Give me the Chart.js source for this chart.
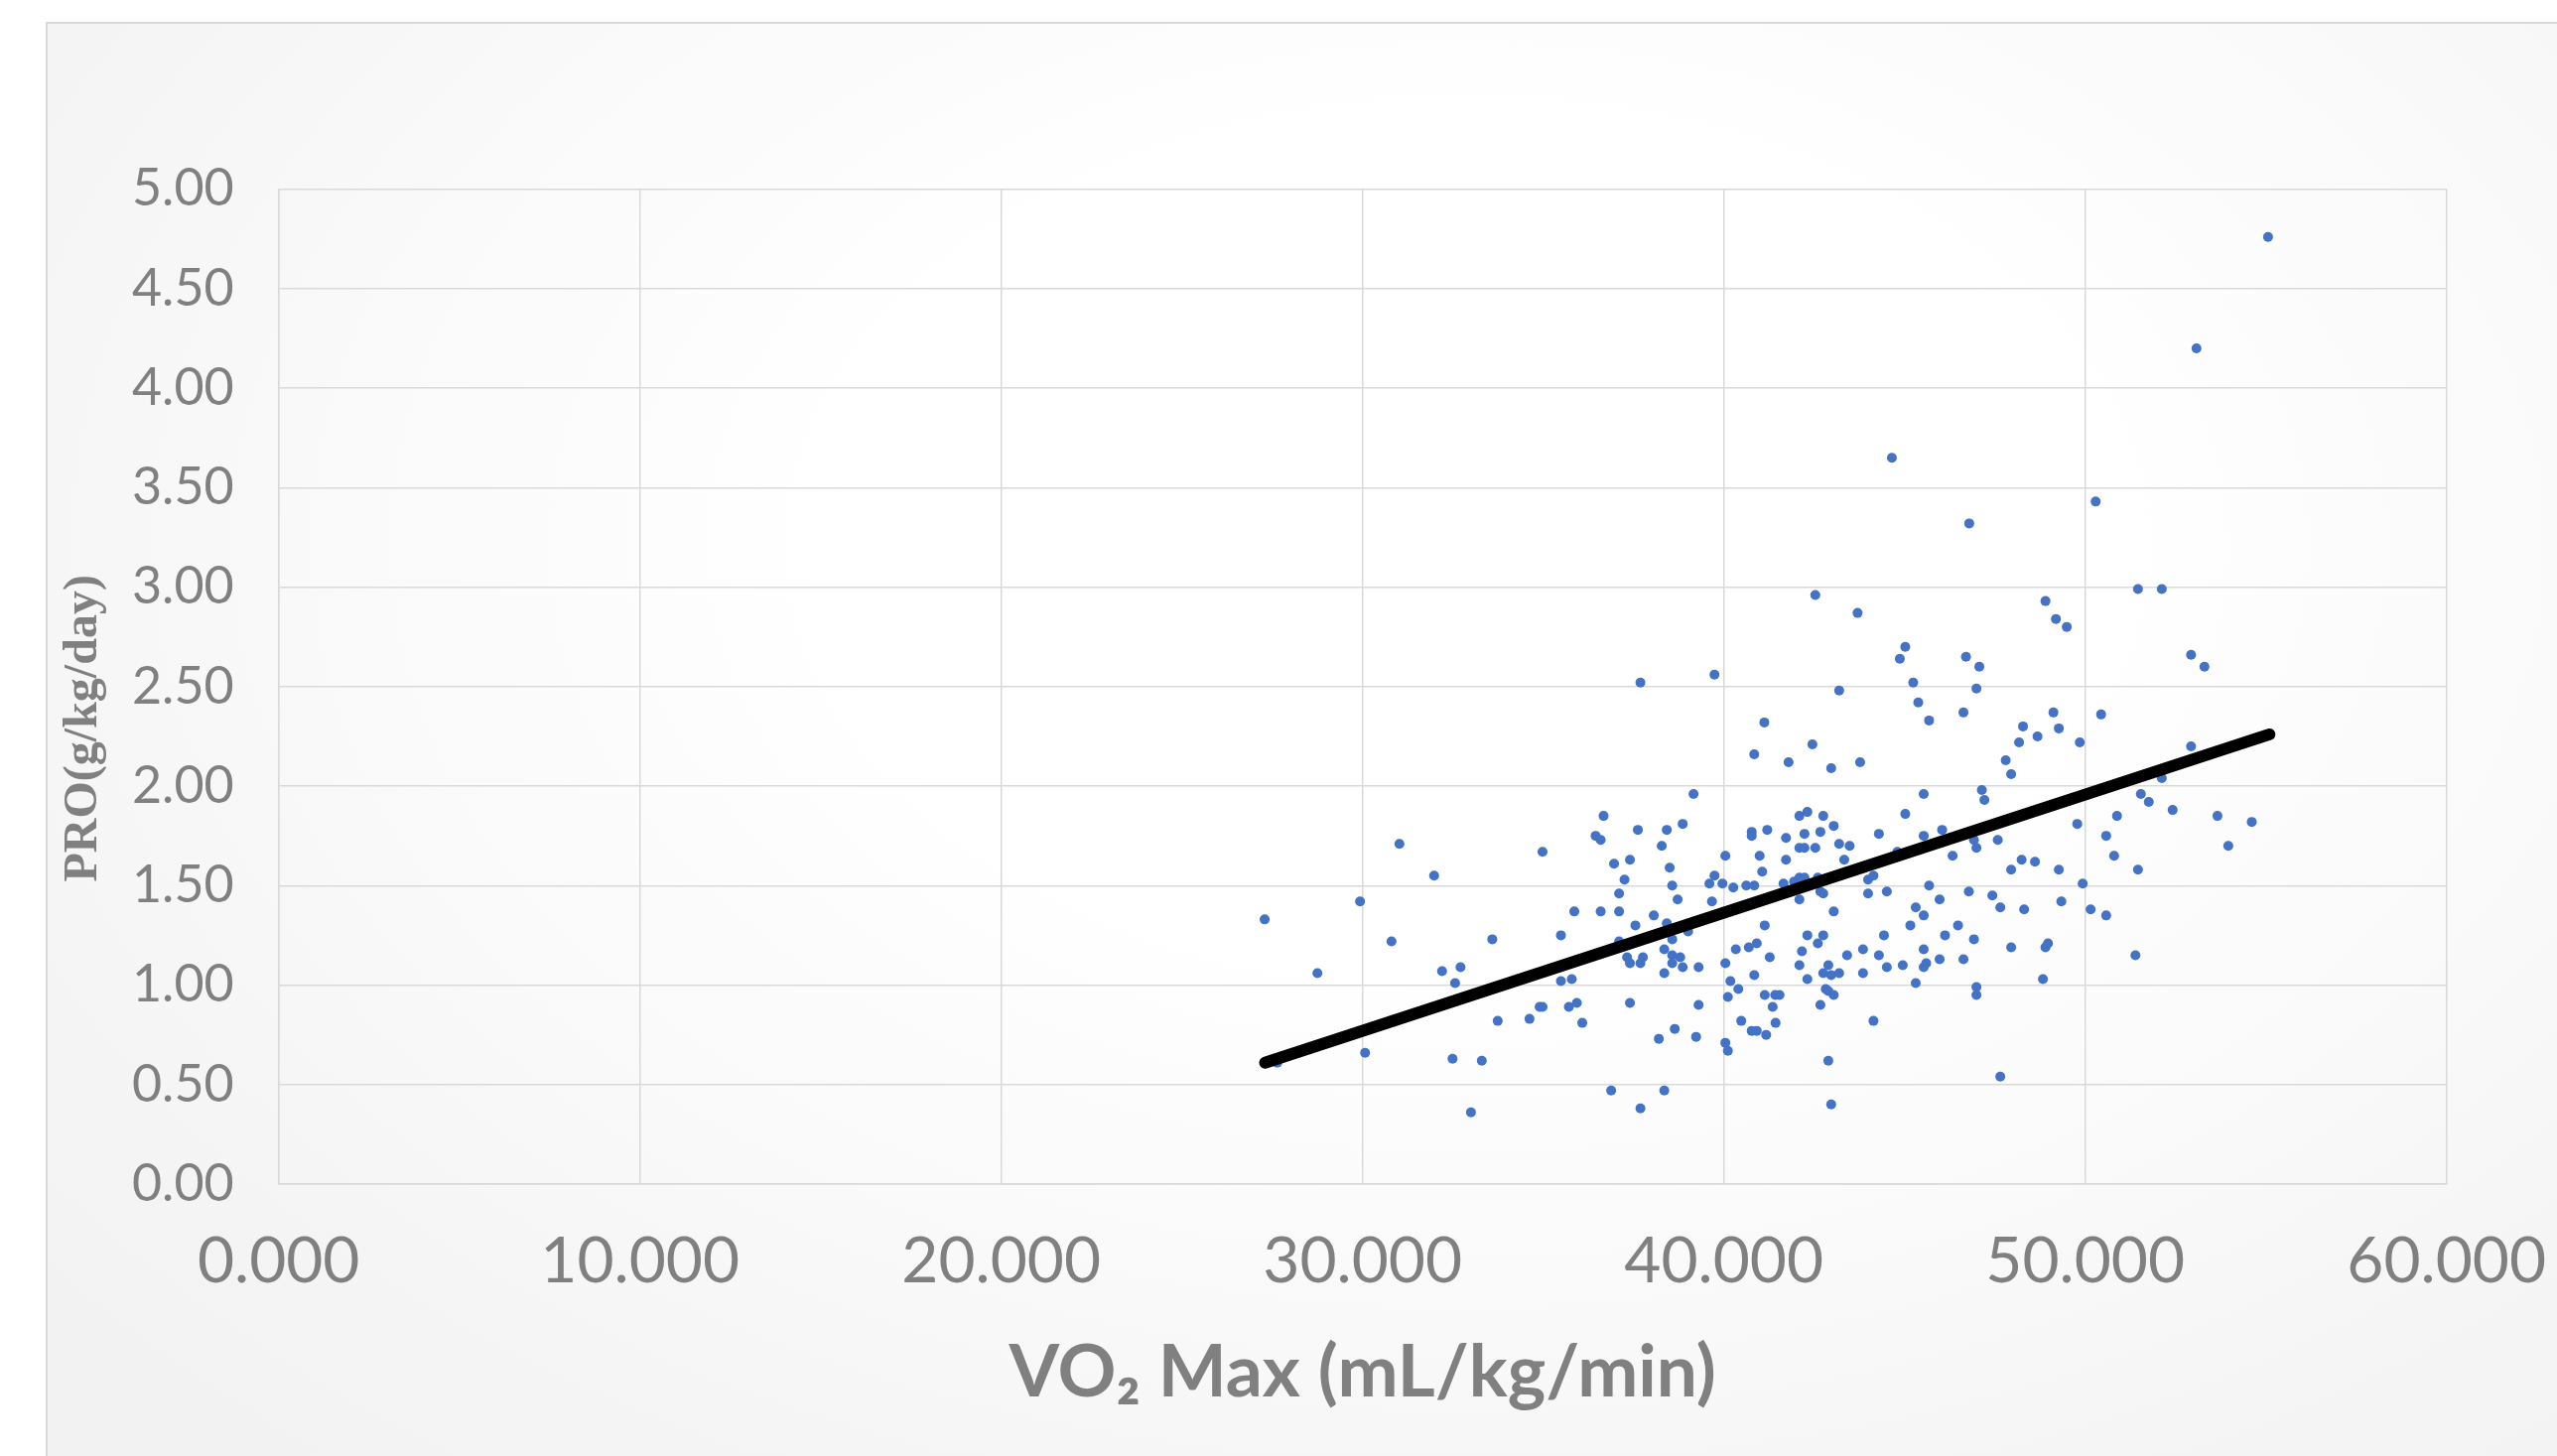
<!DOCTYPE html>
<html>
<head>
<meta charset="utf-8">
<script src="https://cdn.jsdelivr.net/npm/chart.js@4.4.0/dist/chart.umd.min.js"></script>
<style>
  html, body { margin: 0; padding: 0; background: #ffffff; overflow: hidden; }
  #frame {
    position: absolute; left: 46px; top: 22px; width: 2600px; height: 1500px;
    border: 2px solid #d9d9d9;
    background: radial-gradient(ellipse 70% 80% at 55% 35%, #ffffff 0%, #ffffff 35%, #f2f2f2 100%);
  }
  #wrap { position: absolute; left: 0; top: 0; width: 2576px; height: 1467px; }
</style>
</head>
<body>
<div id="frame"></div>
<div id="wrap"><canvas id="myChart"></canvas></div>
<script>
// VO2 max (mL/kg/min) and protein intake (g/kg/day) per subject
const vo2Max = [
  55.06, 53.08, 44.65, 46.79, 50.29,
  37.69, 39.74, 41.12, 40.84, 39.16, 36.67, 37.62, 38.42, 38.86, 36.45, 36.59, 40.77, 41.20,
  42.53, 43.70, 45.02, 44.87, 46.70, 47.07, 45.24, 43.19, 46.99, 45.38, 45.68, 46.63, 42.45, 41.79,
  42.97, 43.77, 48.28, 48.17, 47.80, 47.95, 45.53, 47.14, 47.21, 45.02, 42.09, 42.31, 42.75, 43.04,
  42.23, 42.67, 44.29, 46.04, 41.72, 45.53,
  48.90, 49.19, 49.49, 51.46, 52.12, 52.93, 53.30, 49.12, 49.27, 48.68, 49.85, 50.44, 52.93, 52.12,
  51.54, 51.76, 52.42, 50.88, 49.78, 53.66, 54.61, 50.58,
  31.02, 31.98, 29.93, 27.29, 30.80, 33.59, 28.75, 32.20, 32.71, 32.56, 33.74, 30.07, 32.49, 33.30,
  33.00, 27.64,
  34.98, 40.77, 38.28, 40.04, 40.99, 36.96, 37.40, 38.50, 41.06, 39.74, 37.25, 39.60, 39.96, 40.26,
  40.62, 40.84, 38.57, 37.10, 38.72, 39.67, 35.86, 36.59, 37.10, 38.06, 38.42, 37.55, 35.49, 39.01,
  38.57, 41.13, 37.10, 40.33, 40.69, 40.91, 38.35, 37.32, 37.76, 38.57, 38.79, 37.40, 37.69, 38.57,
  38.86, 39.30, 40.04, 38.35, 40.84, 35.49, 35.79, 40.18, 40.40, 40.11, 41.13, 34.90, 34.98, 35.71,
  35.93, 37.40, 39.30, 34.62, 36.08, 40.48, 40.77, 40.91, 41.17, 38.64, 38.20, 39.23, 40.04, 40.11,
  36.88, 38.35, 37.69,
  42.09, 42.23, 42.53, 43.19, 43.48, 41.72, 43.33, 44.80, 46.33, 46.92, 46.99, 47.58, 48.24, 47.95,
  41.65, 41.94, 42.09, 42.23, 42.60, 42.67, 42.75, 42.09, 43.04, 43.99, 44.14, 43.99, 44.51, 45.68,
  45.97, 46.78, 47.43, 47.65, 48.31, 45.31, 45.53, 45.16, 46.48, 42.31, 42.75, 42.60, 44.43, 46.12,
  46.92, 47.95, 42.16, 43.41, 43.85, 44.29, 45.53, 41.27, 42.09, 42.89, 42.75, 42.97, 43.19, 43.85,
  44.51, 44.95, 45.60, 45.53, 45.97, 46.63, 42.31, 45.31, 46.99, 46.99, 41.42, 41.54, 42.82, 42.89,
  43.04, 41.35, 42.67, 41.43, 44.14, 42.89, 47.65, 42.97,
  53.96, 50.80, 48.61, 49.27, 51.46, 49.93, 49.34, 50.15, 50.58, 48.90, 48.97, 51.39, 48.83
];
const protein = [
  4.76, 4.20, 3.65, 3.32, 3.43,
  2.52, 2.56, 2.32, 2.16, 1.96, 1.85, 1.78, 1.78, 1.81, 1.75, 1.73, 1.77, 1.78,
  2.96, 2.87, 2.70, 2.64, 2.65, 2.60, 2.52, 2.48, 2.49, 2.42, 2.33, 2.37, 2.21, 2.12,
  2.09, 2.12, 2.30, 2.22, 2.13, 2.06, 1.96, 1.98, 1.93, 1.86, 1.85, 1.87, 1.85, 1.80,
  1.76, 1.77, 1.76, 1.78, 1.74, 1.75,
  2.93, 2.84, 2.80, 2.99, 2.99, 2.66, 2.60, 2.37, 2.29, 2.25, 2.22, 2.36, 2.20, 2.04,
  1.96, 1.92, 1.88, 1.85, 1.81, 1.85, 1.82, 1.75,
  1.71, 1.55, 1.42, 1.33, 1.22, 1.23, 1.06, 1.07, 1.09, 1.01, 0.82, 0.66, 0.63, 0.62,
  0.36, 0.61,
  1.67, 1.75, 1.70, 1.65, 1.65, 1.61, 1.63, 1.59, 1.57, 1.55, 1.53, 1.51, 1.51, 1.49,
  1.50, 1.50, 1.50, 1.46, 1.43, 1.42, 1.37, 1.37, 1.37, 1.35, 1.31, 1.30, 1.25, 1.27,
  1.23, 1.30, 1.22, 1.18, 1.19, 1.21, 1.18, 1.14, 1.14, 1.15, 1.14, 1.11, 1.11, 1.11,
  1.09, 1.09, 1.11, 1.06, 1.05, 1.02, 1.03, 1.02, 0.98, 0.94, 0.95, 0.89, 0.89, 0.89,
  0.91, 0.91, 0.90, 0.83, 0.81, 0.82, 0.77, 0.77, 0.75, 0.78, 0.73, 0.74, 0.71, 0.67,
  0.47, 0.47, 0.38,
  1.69, 1.69, 1.69, 1.71, 1.70, 1.63, 1.63, 1.67, 1.65, 1.73, 1.69, 1.73, 1.63, 1.58,
  1.51, 1.52, 1.54, 1.54, 1.54, 1.47, 1.46, 1.43, 1.37, 1.53, 1.55, 1.46, 1.47, 1.50,
  1.43, 1.47, 1.45, 1.39, 1.38, 1.39, 1.35, 1.30, 1.30, 1.25, 1.25, 1.21, 1.25, 1.25,
  1.23, 1.19, 1.17, 1.15, 1.18, 1.15, 1.18, 1.14, 1.10, 1.10, 1.06, 1.05, 1.06, 1.06,
  1.09, 1.10, 1.11, 1.09, 1.13, 1.13, 1.03, 1.01, 0.99, 0.95, 0.95, 0.95, 0.98, 0.97,
  0.95, 0.89, 0.90, 0.81, 0.82, 0.62, 0.54, 0.40,
  1.70, 1.65, 1.62, 1.58, 1.58, 1.51, 1.42, 1.38, 1.35, 1.19, 1.21, 1.15, 1.03
];
// linear trendline end points as drawn
const trendX = [27.3, 55.1];
const trendY = [0.61, 2.26];

const xTitle = 'VO\u2082 Max (mL/kg/min)';
const yTitle = 'PRO(g/kg/day)';

const points = vo2Max.map((v, i) => ({x: v, y: protein[i]}));
const trend = trendX.map((v, i) => ({x: v, y: trendY[i]}));

const grey = '#808080';
const gridGrey = '#d9d9d9';

const ctx = document.getElementById('myChart').getContext('2d');
const myChart = new Chart(ctx, {
    type: 'scatter',
    data: {
        datasets: [
            {
                label: 'Linear (PRO)',
                data: trend,
                showLine: true,
                borderColor: '#000000',
                borderWidth: 12,
                borderCapStyle: 'round',
                pointRadius: 0,
                order: 0
            },
            {
                label: 'PRO',
                data: points,
                backgroundColor: '#4472C4',
                borderColor: '#4472C4',
                borderWidth: 0,
                pointRadius: 5,
                order: 1
            }
        ]
    },
    options: {
        responsive: true,
        maintainAspectRatio: false,
        devicePixelRatio: 1,
        animation: false,
        layout: { padding: { left: 0, top: 190.6, right: 111.3, bottom: 0 } },
        plugins: { legend: { display: false }, tooltip: { enabled: false } },
        scales: {
            x: {
                type: 'linear',
                min: 0,
                max: 60,
                afterFit: (scale) => {
                    scale.height = 274;
                    // let the end labels overhang instead of shrinking the plot
                    scale.paddingLeft = 0;
                    scale.paddingRight = 0;
                },
                ticks: {
                    stepSize: 10,
                    padding: 40,
                    color: grey,
                    font: { family: 'Lato', size: 64 },
                    callback: (v) => v.toFixed(3)
                },
                grid: { color: gridGrey, lineWidth: 1.5, drawTicks: false },
                border: { color: gridGrey, width: 1.5 },
                title: {
                    display: true,
                    text: xTitle,
                    color: grey,
                    font: { family: 'Lato', size: 73, weight: 'bold' },
                    padding: { top: 0, bottom: 40 }
                }
            },
            y: {
                type: 'linear',
                min: 0,
                max: 5,
                afterFit: (scale) => { scale.width = 280.7; },
                ticks: {
                    stepSize: 0.5,
                    padding: 45,
                    color: grey,
                    font: { family: 'Lato', size: 52 },
                    callback: (v) => v.toFixed(2)
                },
                grid: { color: gridGrey, lineWidth: 1.5, drawTicks: false },
                border: { color: gridGrey, width: 1.5 },
                title: {
                    display: true,
                    // trailing spaces push the centred title a little lower, as in the original
                    text: yTitle + '       ',
                    color: grey,
                    font: { family: 'Liberation Serif', size: 48, weight: 'bold' },
                    padding: { top: 56, bottom: 0 }
                }
            }
        }
    }
});
</script>
</body>
</html>
